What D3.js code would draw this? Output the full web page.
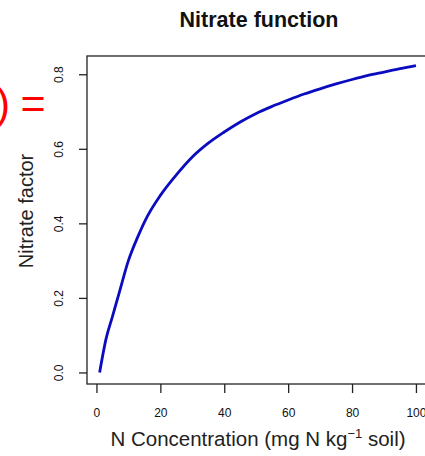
<!DOCTYPE html>
<html>
<head>
<meta charset="utf-8">
<script src="https://cdn.jsdelivr.net/npm/d3@7"></script>
<style>
  html, body { margin: 0; padding: 0; background: #fff; overflow: hidden; }
  svg { display: block; font-family: Arial, "Liberation Sans", sans-serif; }
</style>
</head>
<body>
<svg id="chart" width="425" height="456"></svg>
<script>
// Nitrate concentration (mg N / kg soil)
const nConc = [1, 3, 5, 7, 10, 13, 16, 20, 25, 30, 35, 40, 45, 50, 55, 60, 65, 70, 75, 80, 85, 90, 95, 100];
// Nitrate factor at each concentration
const nitrateFactor = [0.0, 0.09, 0.15, 0.21, 0.30, 0.365, 0.42, 0.475, 0.53, 0.578, 0.615, 0.645, 0.672, 0.695, 0.714, 0.731, 0.747, 0.761, 0.774, 0.786, 0.797, 0.806, 0.815, 0.823];
const xTicks = [0, 20, 40, 60, 80, 100];
const yTicks = [0.0, 0.2, 0.4, 0.6, 0.8];

const svg = d3.select("#chart");
const box = { left: 87, top: 56, right: 428.6, bottom: 384 };

const x = d3.scaleLinear().domain([-2.96, 103.96]).range([box.left, box.right]);
const y = d3.scaleLinear().domain([-0.031, 0.849]).range([box.bottom, box.top]);

// plot frame
svg.append("rect")
  .attr("x", box.left).attr("y", box.top)
  .attr("width", box.right - box.left).attr("height", box.bottom - box.top)
  .attr("fill", "none").attr("stroke", "#222").attr("stroke-width", 1.3);

// x axis
const xAxis = svg.append("g")
  .attr("transform", `translate(0,${box.bottom})`)
  .call(d3.axisBottom(x).tickValues(xTicks).tickSize(9).tickPadding(15).tickFormat(d3.format("d")));
xAxis.select(".domain").remove();
xAxis.selectAll("line").attr("stroke", "#222").attr("stroke-width", 1.3);
xAxis.selectAll("text").attr("font-size", 12).attr("fill", "#111").attr("font-family", "Arial, 'Liberation Sans', sans-serif");

// y axis with rotated labels
const yAxis = svg.append("g")
  .attr("transform", `translate(${box.left},0)`)
  .call(d3.axisLeft(y).tickValues(yTicks).tickSize(8).tickFormat(d3.format(".1f")));
yAxis.select(".domain").remove();
yAxis.selectAll("line").attr("stroke", "#222").attr("stroke-width", 1.3);
yAxis.selectAll("text")
  .attr("font-size", 12).attr("fill", "#111").attr("font-family", "Arial, 'Liberation Sans', sans-serif")
  .attr("x", null).attr("dy", null)
  .attr("text-anchor", "middle")
  .attr("transform", "translate(-24,0) rotate(-90)");

// curve
const line = d3.line().x((d, i) => x(nConc[i])).y(d => y(d)).curve(d3.curveMonotoneX);
svg.append("path")
  .datum(nitrateFactor)
  .attr("d", line)
  .attr("fill", "none")
  .attr("stroke", "#0b0bbf")
  .attr("stroke-width", 2.8)
  .attr("stroke-linejoin", "round");

// title
svg.append("text")
  .attr("x", 259).attr("y", 27)
  .attr("text-anchor", "middle")
  .attr("font-size", 21.5).attr("font-weight", "bold").attr("fill", "#111")
  .text("Nitrate function");

// x axis title
const xl = svg.append("text")
  .attr("x", 258).attr("y", 446)
  .attr("text-anchor", "middle")
  .attr("font-size", 20.5).attr("fill", "#222");
xl.append("tspan").text("N Concentration (mg N kg");
xl.append("tspan").attr("font-size", 13).attr("dy", -8).text("\u22121");
xl.append("tspan").attr("dy", 8).text(" soil)");

// y axis title
svg.append("text")
  .attr("transform", "translate(33,211) rotate(-90)")
  .attr("text-anchor", "middle")
  .attr("font-size", 20).attr("fill", "#222")
  .text("Nitrate factor");

// trailing part of the equation to the left of the plot
svg.append("text")
  .attr("x", -4).attr("y", 118)
  .attr("font-size", 42).attr("fill", "#ff0000")
  .text(")");
svg.append("text")
  .attr("x", 20.5).attr("y", 118)
  .attr("font-size", 43).attr("fill", "#ff0000")
  .text("=");
</script>
</body>
</html>
